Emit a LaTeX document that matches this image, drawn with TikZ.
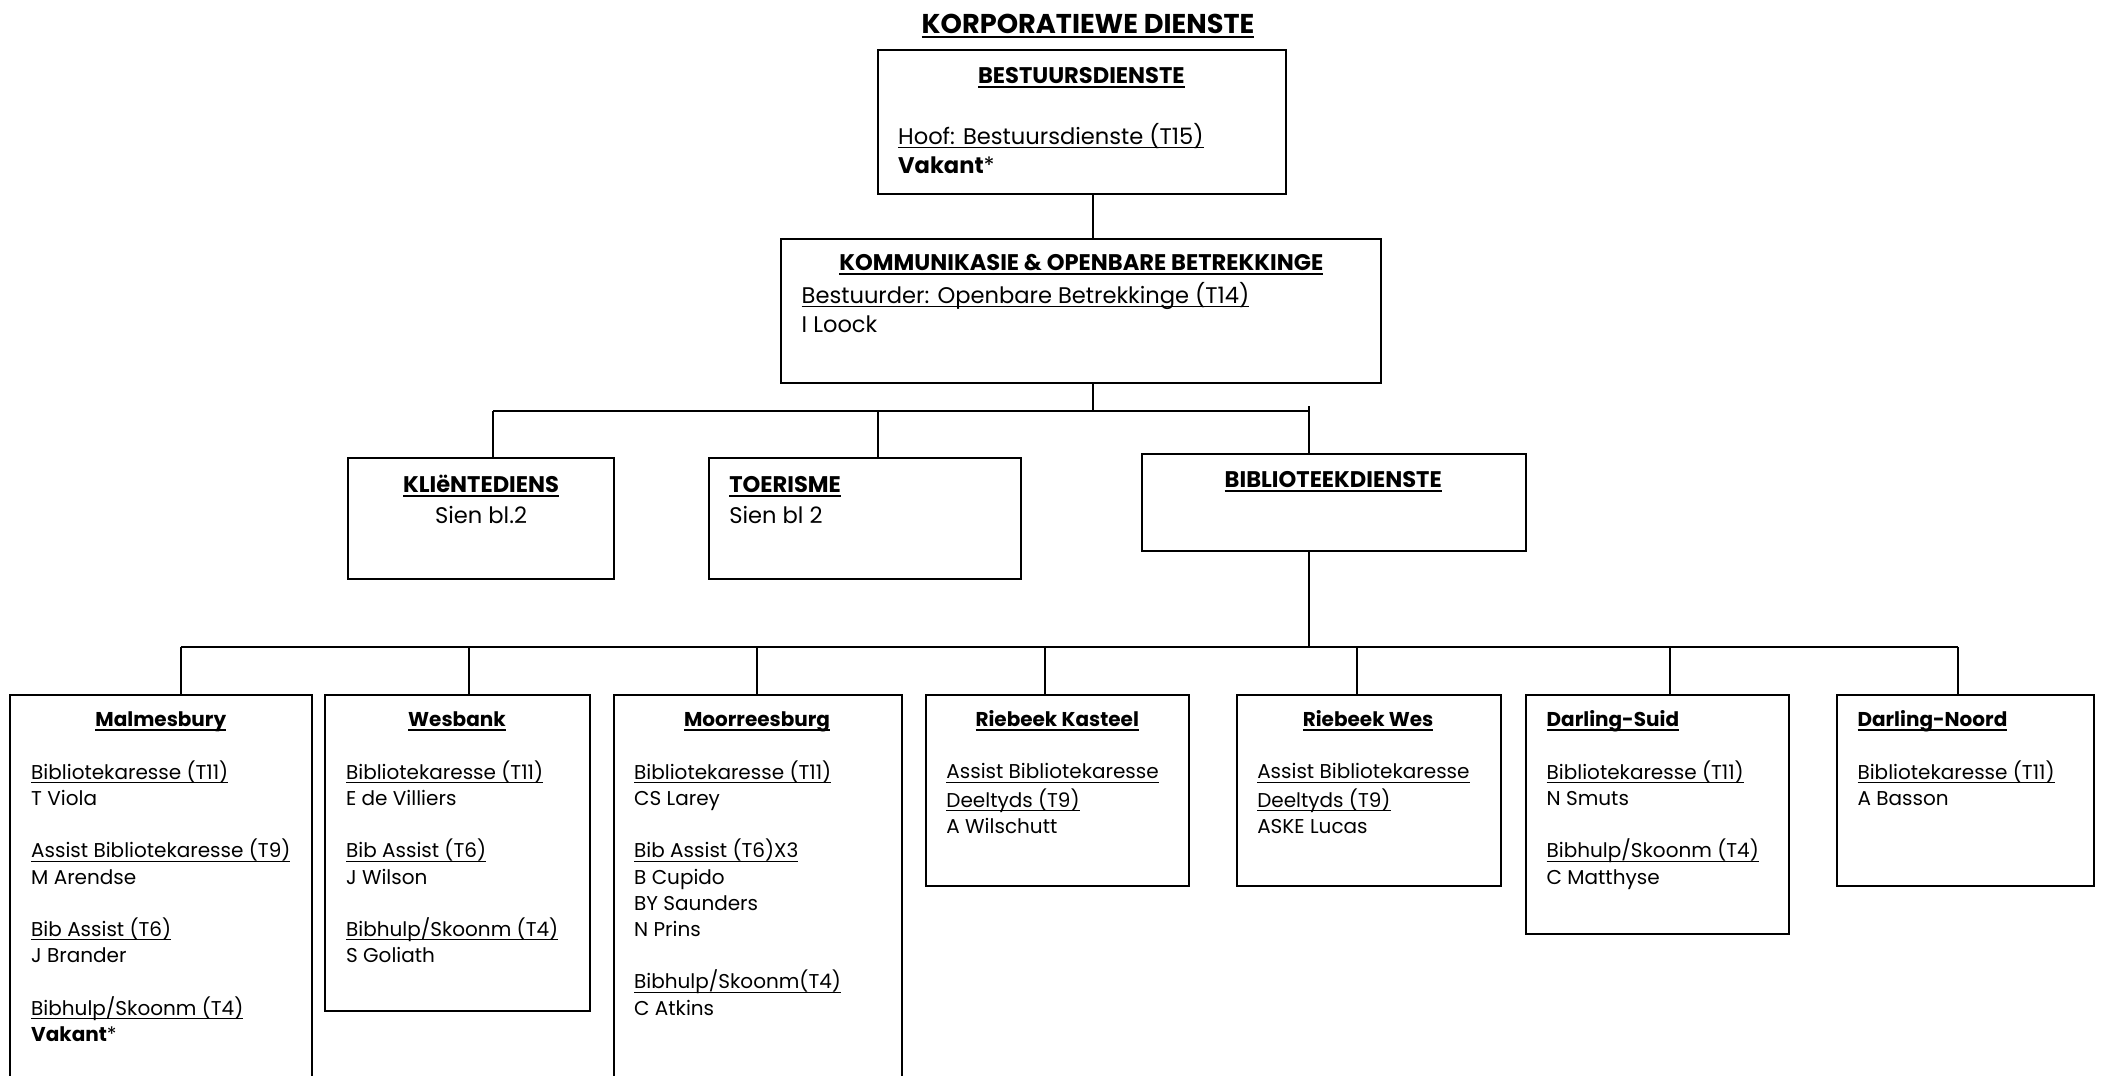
\documentclass[tikz,border=0pt]{standalone}
\usepackage{fontspec}
\setmainfont{Poppins}
\usetikzlibrary{fit}
\newsavebox\ubox
\newcommand{\uu}[1]{\sbox\ubox{#1}\rlap{\rule[-1.8pt]{\wd\ubox}{0.45pt}}\usebox\ubox}
\newcommand{\hd}[1]{{\bfseries\sbox\ubox{#1}\rlap{\rule[-2.3pt]{\wd\ubox}{1pt}}\usebox\ubox}}
\begin{document}
\begin{tikzpicture}[x=0.67pt,y=-0.67pt,
  box/.style={draw,line width=1pt,inner sep=0pt},
  ln/.style={draw,line width=1pt},
  hdr/.style={inner sep=0pt,anchor=base,font=\fontsize{10}{13.1}\selectfont},
  hdrl/.style={inner sep=0pt,anchor=base west,font=\fontsize{10}{13.1}\selectfont},
  blk/.style={inner sep=0pt,anchor=north west,align=left,font=\fontsize{10}{13.1}\selectfont},
  big/.style={font=\fontsize{11.3}{14.4}\selectfont}]
\useasboundingbox (0,0) rectangle (1568,803);
\fill[white] (0,0) rectangle (1568,803);
\clip (0,0) rectangle (1568,803);

% title
\node[inner sep=0pt,anchor=base,font=\fontsize{13.6}{16}\selectfont] (title) at (812,25) {\hd{KORPORATIEWE DIENSTE}};

% level 1
\node[box,fit={(655,37.3)(959.5,145)}] (b1) {};
\node[hdr,big] (b1t) at (807,62) {\hd{BESTUURSDIENSTE}};
\node[blk,big] (b1c) at (670,92) {\strut\uu{Hoof: Bestuursdienste (T15)}\\\textbf{Vakant}*};

% level 2
\node[box,fit={(583,178)(1031,285.6)}] (b2) {};
\node[hdr,big] (b2t) at (807,202) {\hd{KOMMUNIKASIE \& OPENBARE BETREKKINGE}};
\node[blk,big] (b2c) at (598,210.5) {\strut\uu{Bestuurder: Openbare Betrekkinge (T14)}\\I Loock};

% level 3
\node[box,fit={(260,342)(458,432)}] (kl) {};
\node[hdr,big] (klt) at (359,367.5) {\hd{KLIëNTEDIENS}};
\node[hdr,big] (klc) at (359,390.5) {Sien bl.2};
\node[box,fit={(529,342)(762,432)}] (to) {};
\node[hdrl,big] (tot) at (544,367.5) {\hd{TOERISME}};
\node[hdrl,big] (toc) at (544,390.5) {Sien bl 2};
\node[box,fit={(852,339)(1138.6,411)}] (bib) {};
\node[hdr,big] (bibt) at (995,363.5) {\hd{BIBLIOTEEKDIENSTE}};

% level 4 boxes
\node[box,fit={(7.5,518.7)(232.6,830)}] (c1) {};
\node[box,fit={(242.5,518.7)(440,754.5)}] (c2) {};
\node[box,fit={(458,518.7)(673,830)}] (c3) {};
\node[box,fit={(691,518.7)(887,661)}] (c4) {};
\node[box,fit={(923,518.7)(1120,661)}] (c5) {};
\node[box,fit={(1139,518.7)(1335,697)}] (c6) {};
\node[box,fit={(1371,518.7)(1563,661)}] (c7) {};

\node[hdr] (c1t) at (120,542) {\hd{Malmesbury}};
\node[blk] (c1c) at (23,567.3) {\strut\uu{Bibliotekaresse (T11)}\\T Viola\\[13.1pt]\uu{Assist Bibliotekaresse (T9)}\\M Arendse\\[13.1pt]\uu{Bib Assist (T6)}\\J Brander\\[13.1pt]\uu{Bibhulp/Skoonm (T4)}\\\textbf{Vakant}*};
\node[hdr] (c2t) at (341,542) {\hd{Wesbank}};
\node[blk] (c2c) at (258,567.3) {\strut\uu{Bibliotekaresse (T11)}\\E de Villiers\\[13.1pt]\uu{Bib Assist (T6)}\\J Wilson\\[13.1pt]\uu{Bibhulp/Skoonm (T4)}\\S Goliath};
\node[hdr] (c3t) at (565,542) {\hd{Moorreesburg}};
\node[blk] (c3c) at (473,567.3) {\strut\uu{Bibliotekaresse (T11)}\\CS Larey\\[13.1pt]\uu{Bib Assist (T6)X3}\\B Cupido\\BY Saunders\\N Prins\\[13.1pt]\uu{Bibhulp/Skoonm(T4)}\\C Atkins};
\node[hdr] (c4t) at (789,542) {\hd{Riebeek Kasteel}};
\node[blk] (c4c) at (706,567.3) {\strut\uu{Assist Bibliotekaresse}\\\uu{Deeltyds (T9)}\\A Wilschutt};
\node[hdr] (c5t) at (1021,542) {\hd{Riebeek Wes}};
\node[blk] (c5c) at (938,567.3) {\strut\uu{Assist Bibliotekaresse}\\\uu{Deeltyds (T9)}\\ASKE Lucas};
\node[hdrl] (c6t) at (1154,542) {\hd{Darling-Suid}};
\node[blk] (c6c) at (1154,567.3) {\strut\uu{Bibliotekaresse (T11)}\\N Smuts\\[13.1pt]\uu{Bibhulp/Skoonm (T4)}\\C Matthyse};
\node[hdrl] (c7t) at (1386,542) {\hd{Darling-Noord}};
\node[blk] (c7c) at (1386,567.3) {\strut\uu{Bibliotekaresse (T11)}\\A Basson};

% connectors
\coordinate (j1) at (816,306.5);
\coordinate (jL) at (368,306.5);
\coordinate (jT) at (655,306.5);
\coordinate (jR) at (977,306.5);
\coordinate (jRt) at (977,303);
\draw[ln] (b1.south -| j1) -- (b2.north -| j1);
\draw[ln] (b2.south -| j1) -- (j1);
\draw[ln] (jL) -- (jR);
\draw[ln] (jL) -- (jL |- kl.north);
\draw[ln] (jT) -- (jT |- to.north);
\draw[ln] (jRt) -- (jRt |- bib.north);

\coordinate (k0) at (977,482.7);
\coordinate (k1) at (135,482.7);
\coordinate (k2) at (350,482.7);
\coordinate (k3) at (565,482.7);
\coordinate (k4) at (780,482.7);
\coordinate (k5) at (1013,482.7);
\coordinate (k6) at (1246,482.7);
\coordinate (k7) at (1461,482.7);
\draw[ln] (bib.south -| k0) -- (k0);
\draw[ln] (k1) -- (k7);
\foreach \i in {1,...,7} {\draw[ln] (k\i) -- (k\i |- c\i.north);}
\end{tikzpicture}
\end{document}
